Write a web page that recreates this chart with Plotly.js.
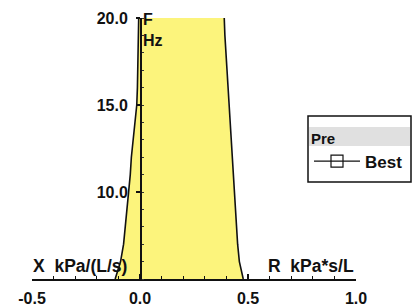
<!DOCTYPE html>
<html>
<head>
<meta charset="utf-8">
<script src="https://cdn.plot.ly/plotly-3.0.1.min.js"></script>
<style>html,body{margin:0;padding:0;background:#fff;}#chart{width:416px;height:307px;}</style>
</head>
<body>
<div id="chart"></div>
<script>
// Frequency (Hz) along the vertical axis
const freqHz = [5, 6, 7, 8, 9, 10, 11, 12, 13, 14, 15, 16, 17, 18, 19, 20];
// Reactance X, kPa/(L/s)  (left edge of the band)
const reactanceX = [-0.115, -0.090, -0.076, -0.068, -0.060, -0.050, -0.045, -0.040, -0.032, -0.022, -0.015, -0.012, -0.010, -0.008, -0.007, -0.006];
// Resistance R, kPa*s/L  (right edge of the band)
const resistanceR = [0.478, 0.460, 0.452, 0.447, 0.442, 0.437, 0.432, 0.427, 0.420, 0.415, 0.410, 0.405, 0.400, 0.397, 0.393, 0.390];
// "Best" series (legend entry only; no points visible in the chart)
const bestX = [null];
const bestY = [null];

const xTickVals = [-0.5, 0.0, 0.5, 1.0];
const xTickText = ["-0.5", "0.0", "0.5", "1.0"];
const yTickVals = [10, 15, 20];
const yTickText = ["10.0", "15.0", "20.0"];

const FONT = "Arial, 'Liberation Sans', sans-serif";
const fillYellow = "#fcf47c";

const W = 416, H = 307;
const M = {l: 32, r: 60, t: 18, b: 28, autoexpand: false};
const pw = W - M.l - M.r, ph = H - M.t - M.b;
const px = v => (v - M.l) / pw;         // pixel x -> paper
const py = v => (H - M.b - v) / ph;     // pixel y -> paper

// closed band polygon: X edge upward, then R edge downward
const bandX = reactanceX.concat(resistanceR.slice().reverse());
const bandY = freqHz.concat(freqHz.slice().reverse());

const traces = [
  {x: bandX, y: bandY, type: "scatter", mode: "none", fill: "toself",
   fillcolor: fillYellow, showlegend: false, hoverinfo: "skip"},
  {x: reactanceX, y: freqHz, type: "scatter", mode: "lines",
   line: {color: "#111", width: 1.6}, showlegend: false, hoverinfo: "skip"},
  {x: resistanceR, y: freqHz, type: "scatter", mode: "lines",
   line: {color: "#111", width: 1.6}, showlegend: false, hoverinfo: "skip"},
  {x: bestX, y: bestY, type: "scatter", mode: "lines+markers", name: "Best",
   line: {color: "#111", width: 1.2},
   marker: {symbol: "square-open", size: 12, color: "#111", line: {width: 1.2}},
   showlegend: true}
];

const layout = {
  width: W, height: H,
  margin: M,
  paper_bgcolor: "#fff", plot_bgcolor: "rgba(0,0,0,0)",
  font: {family: FONT, color: "#111", size: 15},
  showlegend: true,
  xaxis: {
    range: [-0.5, 1.0], showgrid: false, zeroline: false,
    showline: true, linecolor: "#111", linewidth: 1.5,
    tickvals: xTickVals, ticktext: xTickText,
    ticks: "inside", ticklen: 5, tickcolor: "#111", tickwidth: 1.2,
    ticklabelstandoff: 4,
    minor: {dtick: 0.1, ticks: "inside", ticklen: 3, tickcolor: "#111", tickwidth: 1},
    tickfont: {family: FONT, size: 16, color: "#111", weight: "bold"},
    fixedrange: true
  },
  yaxis: {
    range: [5, 20], showgrid: false, zeroline: false,
    anchor: "free", position: 1/3,
    showline: true, linecolor: "#111", linewidth: 1.5,
    tickvals: yTickVals, ticktext: yTickText,
    ticks: "outside", ticklen: 4, tickcolor: "#111", tickwidth: 1.2,
    ticklabelstandoff: 5,
    minor: {dtick: 1, ticks: "inside", ticklen: 2, tickcolor: "#333", tickwidth: 1},
    tickfont: {family: FONT, size: 16, color: "#111", weight: "bold"},
    fixedrange: true
  },
  legend: {
    x: px(309), xanchor: "left", y: py(124), yanchor: "top",
    bgcolor: "rgba(0,0,0,0)", borderwidth: 0, itemwidth: 46,
    title: {text: "Pre", font: {family: FONT, size: 15, color: "#111", weight: "bold"}},
    font: {family: FONT, size: 17, color: "#111", weight: "bold"}
  },
  shapes: [
    {type: "rect", xref: "paper", yref: "paper",
     x0: px(309), x1: px(410), y0: py(146), y1: py(127),
     fillcolor: "#e0e0e0", line: {width: 0}, layer: "below"},
    {type: "rect", xref: "paper", yref: "paper",
     x0: px(308), x1: px(411), y0: py(182), y1: py(116),
     fillcolor: "rgba(0,0,0,0)", line: {color: "#111", width: 1.5}}
  ],
  annotations: [
    {text: "F<br>Hz", xref: "paper", yref: "paper", x: px(141), y: py(9),
     xanchor: "left", yanchor: "top", align: "left", showarrow: false,
     font: {family: FONT, size: 16, color: "#111", weight: "bold"}},
    {text: "X  kPa/(L/s)", xref: "paper", yref: "paper", x: px(31), y: py(254),
     xanchor: "left", yanchor: "top", showarrow: false,
     font: {family: FONT, size: 17.5, color: "#111", weight: "bold"}},
    {text: "R  kPa*s/L", xref: "paper", yref: "paper", x: px(266), y: py(254),
     xanchor: "left", yanchor: "top", showarrow: false,
     font: {family: FONT, size: 17.5, color: "#111", weight: "bold"}}
  ]
};

Plotly.newPlot("chart", traces, layout, {staticPlot: true, displayModeBar: false});
</script>
</body>
</html>
